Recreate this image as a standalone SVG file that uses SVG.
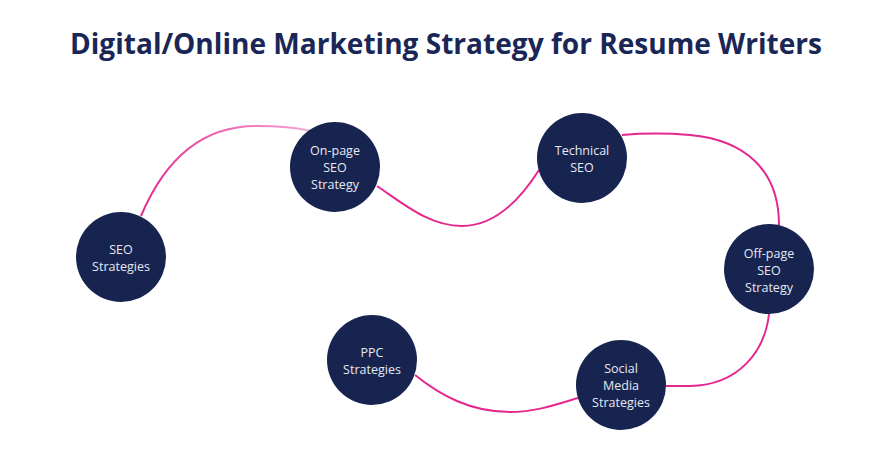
<svg xmlns="http://www.w3.org/2000/svg" width="894" height="473" viewBox="0 0 894 473">
<style>
.node circle{fill:#172450}
.node text{fill:#e6e9f3;font-family:"Open Sans","Liberation Sans",sans-serif;font-size:12.5px;text-anchor:middle;dominant-baseline:central}
.edge{fill:none;stroke:#e4288f;stroke-width:2}
.title{fill:#1a2756;font-family:"Open Sans","Liberation Sans",sans-serif;font-weight:700;font-size:28px;text-anchor:middle}
</style>
<defs>
<linearGradient id="g1" x1="141" y1="0" x2="308" y2="0" gradientUnits="userSpaceOnUse">
<stop offset="0" stop-color="#e4288f"/><stop offset="1" stop-color="#f3a6d4"/>
</linearGradient>
</defs>
<rect width="894" height="473" fill="#ffffff"/>
<text class="title" x="446" y="54" textLength="752" lengthAdjust="spacingAndGlyphs">Digital/Online Marketing Strategy for Resume Writers</text>
<g id="connectors">
<path class="edge" style="stroke:url(#g1)" d="M141,216 C168,152 208,126 256,126 C280,126 298,128 310,131"/>
<path class="edge" d="M377,186 C405,205 430,226 462,226 C495,226 520,200 539,170"/>
<path class="edge" d="M622,135 C645,133 665,133 690,135 C745,140 779,170 779,225"/>
<path class="edge" d="M769,314 C765,350 740,385 690,386 C680,386 672,386 666,386"/>
<path class="edge" d="M578,398 C555,405 535,412 510,412 C470,412 440,395 415,375"/>
</g>
<g id="n-seo" class="node"><circle cx="121" cy="257" r="45"/><text x="121" y="249">SEO</text><text x="121" y="266">Strategies</text></g>
<g id="n-onpage" class="node"><circle cx="335" cy="167" r="45"/><text x="335" y="150">On-page</text><text x="335" y="167">SEO</text><text x="335" y="184">Strategy</text></g>
<g id="n-technical" class="node"><circle cx="582" cy="158" r="45"/><text x="582" y="150">Technical</text><text x="582" y="167">SEO</text></g>
<g id="n-offpage" class="node"><circle cx="769" cy="269" r="45"/><text x="769" y="253">Off-page</text><text x="769" y="270">SEO</text><text x="769" y="287">Strategy</text></g>
<g id="n-ppc" class="node"><circle cx="372" cy="360" r="45"/><text x="372" y="352">PPC</text><text x="372" y="369">Strategies</text></g>
<g id="n-social" class="node"><circle cx="621" cy="385" r="45"/><text x="621" y="368">Social</text><text x="621" y="385">Media</text><text x="621" y="402">Strategies</text></g>
</svg>
